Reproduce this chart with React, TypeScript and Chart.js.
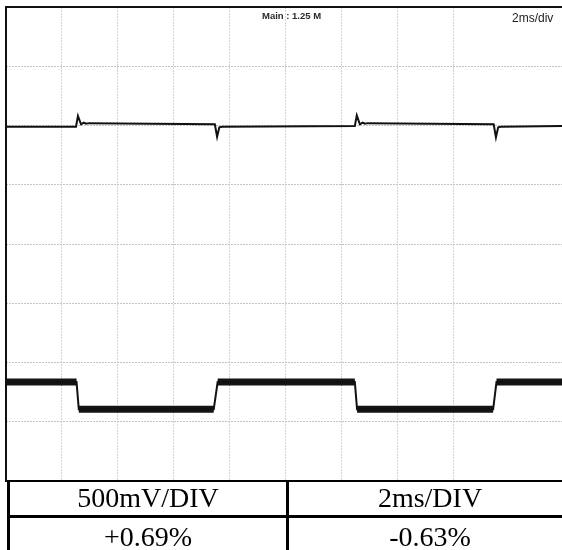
import React, { useEffect, useRef } from "react";
import { Chart, registerables } from "chart.js";

Chart.register(...registerables);

// Screen: 10 horizontal divisions at 2 ms/div (last one runs past the right edge), 8 vertical divisions.
const msPerDiv = 2;
const visibleSpanMs = 19.86;
const verticalDivs = 8;

// Upper trace: output ripple, small spikes at each load edge (level in divisions).
const ch1TimeMs = [0, 2.5, 2.57, 2.68, 2.78, 2.86, 2.96, 7.46, 7.54, 7.62, 7.72, 12.46, 12.53, 12.64, 12.74, 12.82, 12.92, 17.42, 17.5, 17.58, 17.68, 19.86];
const ch1LevelDiv = [5.98, 5.98, 6.16, 6.02, 6.05, 6.03, 6.04, 6.02, 5.81, 5.97, 5.98, 5.99, 6.17, 6.02, 6.05, 6.03, 6.04, 6.02, 5.8, 5.97, 5.98, 5.99];

// Lower trace: square load step (level in divisions).
const ch2TimeMs = [0, 2.52, 2.6, 7.42, 7.56, 12.46, 12.54, 17.4, 17.52, 19.86];
const ch2LevelDiv = [1.67, 1.67, 1.21, 1.21, 1.67, 1.67, 1.21, 1.21, 1.67, 1.67];

const headerMain = "Main : 1.25 M";
const headerTimebase = "2ms/div";
const tableHeaders = ["500mV/DIV", "2ms/DIV"];
const tableValues = ["+0.69%", "-0.63%"];

const toPoints = (xs: number[], ys: number[]) => xs.map((x, i) => ({ x, y: ys[i] }));

// Flat stretches of a trace only; edges become gaps so the noisy band stays on the plateaus.
const plateausOnly = (xs: number[], ys: number[]) => {
  const out: { x: number; y: number | null }[] = [];
  for (let i = 0; i < xs.length; i++) {
    out.push({ x: xs[i], y: ys[i] });
    if (i < xs.length - 1 && ys[i + 1] !== ys[i]) out.push({ x: (xs[i] + xs[i + 1]) / 2, y: null });
  }
  return out;
};

const framePlugin = {
  id: "scopeFrame",
  afterDraw(chart: any) {
    const { ctx, chartArea: a } = chart;
    ctx.save();
    ctx.fillStyle = "#111";
    ctx.fillRect(a.left - 1, a.top - 1, a.right - a.left + 1, 2);
    ctx.fillRect(a.left - 1, a.top - 1, 2, a.bottom - a.top + 2);
    ctx.fillRect(a.left - 1, a.bottom - 1, a.right - a.left + 1, 2);
    ctx.restore();
  },
};

function ScopeChart() {
  const canvasRef = useRef<HTMLCanvasElement | null>(null);

  useEffect(() => {
    if (!canvasRef.current) return;
    const chart = new Chart(canvasRef.current, {
      type: "line",
      data: {
        datasets: [
          {
            data: toPoints(ch1TimeMs, ch1LevelDiv),
            borderColor: "#111",
            borderWidth: 2,
            pointRadius: 0,
            tension: 0,
          },
          {
            data: toPoints(ch2TimeMs, ch2LevelDiv),
            borderColor: "#111",
            borderWidth: 2,
            pointRadius: 0,
            tension: 0,
          },
          {
            data: plateausOnly(ch2TimeMs, ch2LevelDiv),
            borderColor: "#141414",
            borderWidth: 7,
            borderCapStyle: "butt",
            pointRadius: 0,
            tension: 0,
            spanGaps: false,
          },
        ],
      },
      options: {
        responsive: false,
        animation: false,
        events: [],
        layout: { padding: { left: 6, top: 7, right: 0, bottom: 2 } },
        plugins: { legend: { display: false }, tooltip: { enabled: false }, title: { display: false } },
        scales: {
          x: {
            type: "linear",
            min: 0,
            max: visibleSpanMs,
            ticks: { display: false, stepSize: msPerDiv },
            grid: { color: "#d4d4d4", drawTicks: false, lineWidth: 1 },
            border: { display: false, dash: [2, 1] },
          },
          y: {
            type: "linear",
            min: 0,
            max: verticalDivs,
            ticks: { display: false, stepSize: 1 },
            grid: { color: "#c4c4c4", drawTicks: false, lineWidth: 1 },
            border: { display: false, dash: [2, 1] },
          },
        },
      },
      plugins: [framePlugin],
    });
    return () => chart.destroy();
  }, []);

  return <canvas ref={canvasRef} width={562} height={483} style={{ position: "absolute", left: 0, top: 0 }} />;
}

const serif = '"Liberation Serif", "Times New Roman", serif';

const line = (left: number, top: number, width: number, height: number): React.CSSProperties => ({
  position: "absolute",
  left,
  top,
  width,
  height,
  background: "#000",
});

const cellText = (left: number, width: number, baseline: number): React.CSSProperties => ({
  position: "absolute",
  left,
  width,
  top: baseline - 26,
  height: 34,
  lineHeight: "34px",
  fontSize: 28,
  fontFamily: serif,
  textAlign: "center",
  color: "#000",
  whiteSpace: "nowrap",
});

export default function App() {
  return (
    <div style={{ position: "absolute", left: 0, top: 0, width: 562, height: 550, overflow: "hidden", background: "#fff" }}>
      <ScopeChart />
      <div
        style={{
          position: "absolute",
          left: 262,
          top: 11,
          fontFamily: '"Liberation Sans Narrow", "Liberation Sans", sans-serif',
          fontWeight: "bold",
          fontSize: 9.5,
          lineHeight: 1,
          color: "#2a2a2a",
          whiteSpace: "nowrap",
        }}
      >
        {headerMain}
      </div>
      <div
        style={{
          position: "absolute",
          left: 512,
          top: 12,
          fontFamily: '"Liberation Sans Narrow", "Liberation Sans", sans-serif',
          fontSize: 12,
          lineHeight: 1,
          color: "#222",
          whiteSpace: "nowrap",
        }}
      >
        {headerTimebase}
      </div>

      {/* result table */}
      <div style={line(7, 480, 570, 2)} />
      <div style={line(7, 515, 570, 3)} />
      <div style={line(7, 480, 3, 80)} />
      <div style={line(286, 480, 3, 80)} />
      <div style={cellText(10, 276, 506.5)}>{tableHeaders[0]}</div>
      <div style={cellText(289, 282, 506.5)}>{tableHeaders[1]}</div>
      <div style={cellText(10, 276, 546)}>{tableValues[0]}</div>
      <div style={cellText(289, 282, 546)}>{tableValues[1]}</div>
    </div>
  );
}
